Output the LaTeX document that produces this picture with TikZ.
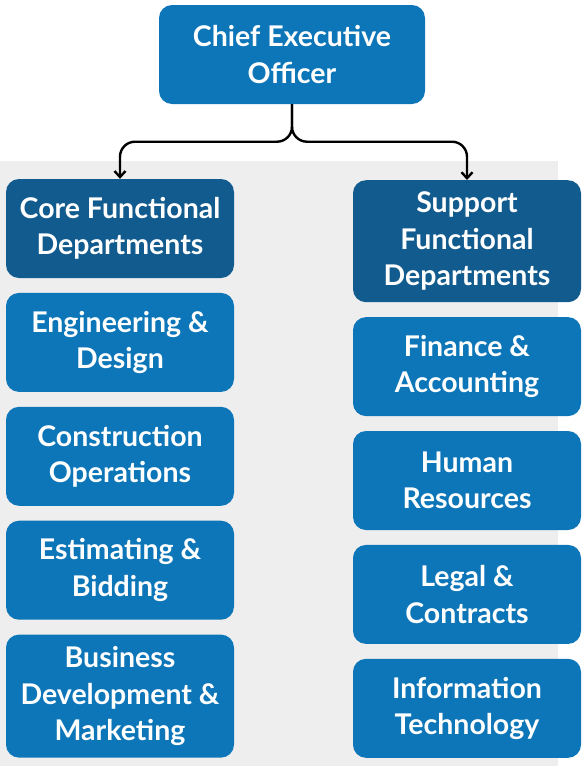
\documentclass[tikz,border=0pt]{standalone}
\usepackage{fontspec}
\setmainfont{Lato}
\usetikzlibrary{arrows.meta,positioning}
\definecolor{boxblue}{HTML}{0D76B8}
\definecolor{headblue}{HTML}{125B8E}
\definecolor{panelgray}{HTML}{EEEEEE}
\tikzset{font=\bfseries\fontsize{28.5}{36.5}\selectfont}
\tikzset{dept/.style={fill=boxblue, text=white, rounded corners=13pt,
    minimum width=228pt, minimum height=99pt, align=center, inner sep=2pt}}
\tikzset{head/.style={dept, fill=headblue}}
\tikzset{link/.style={line width=2.4pt, rounded corners=15pt,
    -{Straight Barb[length=6pt,width=11pt,line width=2.4pt]}}}

\begin{document}
\begin{tikzpicture}[x=1pt, y=-1pt, node distance=14.5pt]
  \useasboundingbox (0,0) rectangle (587,766);
  \fill[panelgray] (0,161) rectangle (558,766);

  \node[dept, minimum width=266pt] (ceo) at (292,54.5) {Chief Executive\\Officer};
% left column
  \node[head] (core) at (120,228.5) {Core Functional\\Departments};
  \node[dept, below=of core] (eng) {Engineering \&\\Design};
  \node[dept, below=of eng] (cons) {Construction\\Operations};
  \node[dept, below=of cons] (est) {Estimating \&\\Bidding};
  \node[dept, below=of est, minimum height=123pt] (bus) {Business\\Development \&\\Marketing};
% right column
  \node[head, anchor=north, minimum height=122pt] (sup) at (467,180) {Support\\Functional\\Departments};
  \node[dept, below=of sup] (fin) {Finance \&\\Accounting};
  \node[dept, below=of fin] (hr) {Human\\Resources};
  \node[dept, below=of hr] (legal) {Legal \&\\Contracts};
  \node[dept, below=of legal] (it) {Information\\Technology};

  \coordinate[below=37.5pt of ceo.south] (split);
  \draw[link] (ceo.south) -- (split) -| (core.north);
  \draw[link] (ceo.south) -- (split) -| (sup.north);
\end{tikzpicture}
\end{document}
